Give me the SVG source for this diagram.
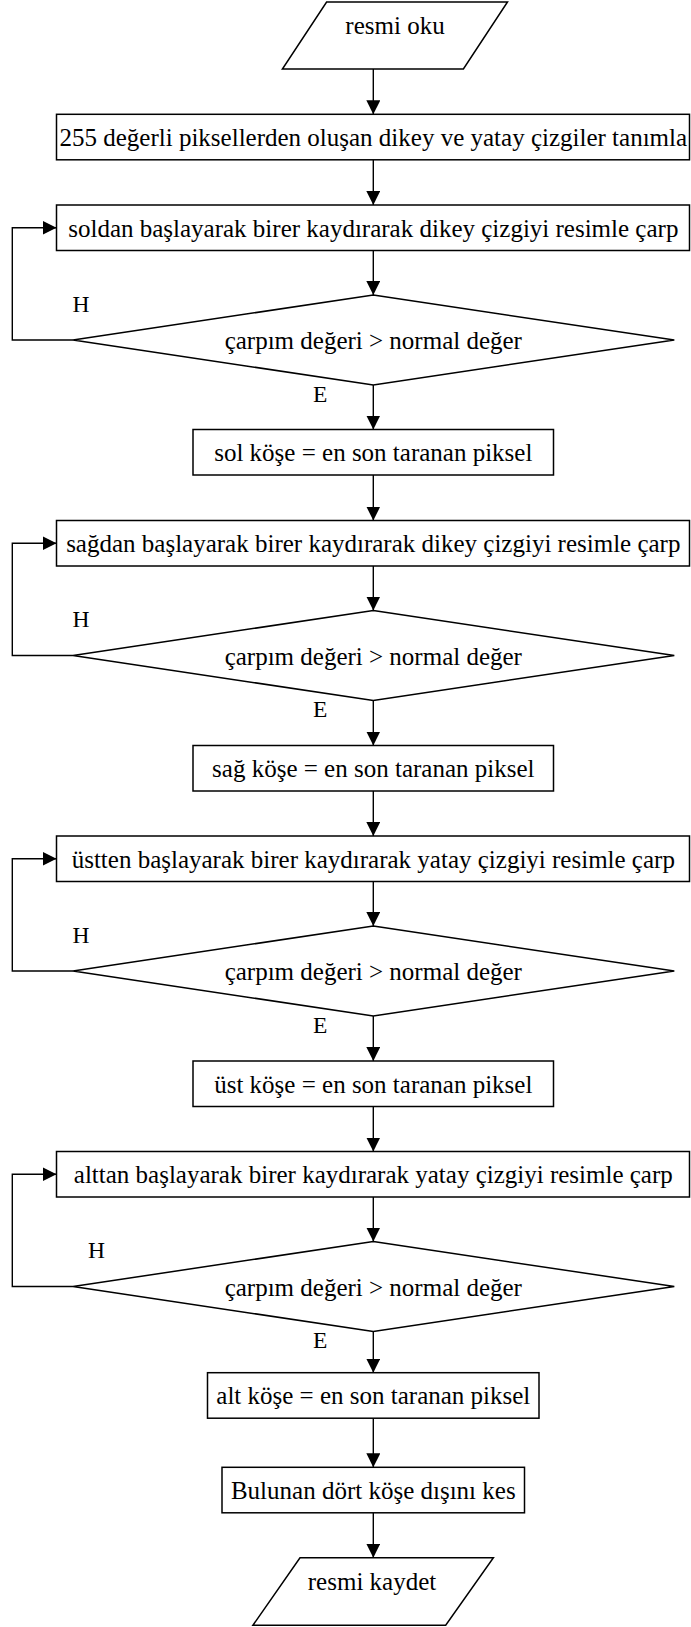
<svg xmlns="http://www.w3.org/2000/svg" width="691" height="1627" viewBox="0 0 691 1627">
<style>
.s{fill:#fff;stroke:#000;stroke-width:1.5}
.t{font-family:"Liberation Serif","Times New Roman",serif;font-size:25px;fill:#000;text-anchor:middle}
.l{font-family:"Liberation Serif","Times New Roman",serif;font-size:23.5px;fill:#000}
.c{fill:none;stroke:#000;stroke-width:1.4}
</style>
<defs>
<marker id="a" markerWidth="14" markerHeight="14" refX="14" refY="7" orient="auto" markerUnits="userSpaceOnUse">
<path d="M0,0 L14,7 L0,14 z" fill="#000"/>
</marker>
</defs>
<rect width="691" height="1627" fill="#fff"/>
<g id="connectors">
<path class="c" d="M373.3,69 V114.3" marker-end="url(#a)"/>
<path class="c" d="M373.3,159.8 V205" marker-end="url(#a)"/>
<path class="c" d="M373.3,250.5 V295" marker-end="url(#a)"/>
<path class="c" d="M373.3,385 V429.5" marker-end="url(#a)"/>
<path class="c" d="M73,340 H12.3 V227.75 H56.5" marker-end="url(#a)"/>
<path class="c" d="M373.3,475 V520.5" marker-end="url(#a)"/>
<path class="c" d="M373.3,566 V610.5" marker-end="url(#a)"/>
<path class="c" d="M373.3,700.5 V745.5" marker-end="url(#a)"/>
<path class="c" d="M73,655.5 H12.3 V543.25 H56.5" marker-end="url(#a)"/>
<path class="c" d="M373.3,791 V836" marker-end="url(#a)"/>
<path class="c" d="M373.3,881.5 V926" marker-end="url(#a)"/>
<path class="c" d="M373.3,1016 V1061" marker-end="url(#a)"/>
<path class="c" d="M73,971 H12.3 V858.75 H56.5" marker-end="url(#a)"/>
<path class="c" d="M373.3,1106.5 V1151.5" marker-end="url(#a)"/>
<path class="c" d="M373.3,1197 V1241.5" marker-end="url(#a)"/>
<path class="c" d="M373.3,1331.5 V1372.7" marker-end="url(#a)"/>
<path class="c" d="M73,1286.5 H12.3 V1174.25 H56.5" marker-end="url(#a)"/>
<path class="c" d="M373.3,1418.2 V1467.3" marker-end="url(#a)"/>
<path class="c" d="M373.3,1512.8 V1557.7" marker-end="url(#a)"/>
<text class="l" x="72.5" y="311.5">H</text>
<text class="l" x="313" y="401.5">E</text>
<text class="l" x="72.5" y="627">H</text>
<text class="l" x="313" y="717">E</text>
<text class="l" x="72.5" y="942.5">H</text>
<text class="l" x="313" y="1032.5">E</text>
<text class="l" x="88" y="1258">H</text>
<text class="l" x="313" y="1348">E</text>
</g>
<g id="n1"><polygon class="s" points="326.6,2 507.5,2 463.4,69 282.4,69"/><text class="t" x="395" y="34">resmi oku</text></g>
<g id="n2"><rect class="s" x="56.5" y="114.3" width="633" height="45.5"/><text class="t" x="373.3" y="146">255 değerli piksellerden oluşan dikey ve yatay çizgiler tanımla</text></g>
<g id="n3"><rect class="s" x="56.5" y="205" width="633" height="45.5"/><text class="t" x="373.3" y="236.5">soldan başlayarak birer kaydırarak dikey çizgiyi resimle çarp</text></g>
<g id="n4"><polygon class="s" points="373.3,295 674.3,340 373.3,385 73,340"/><text class="t" x="373.3" y="349">çarpım değeri &gt; normal değer</text></g>
<g id="n5"><rect class="s" x="193" y="429.5" width="360.5" height="45.5"/><text class="t" x="373.3" y="461">sol köşe = en son taranan piksel</text></g>
<g id="n6"><rect class="s" x="56.5" y="520.5" width="633" height="45.5"/><text class="t" x="373.3" y="552">sağdan başlayarak birer kaydırarak dikey çizgiyi resimle çarp</text></g>
<g id="n7"><polygon class="s" points="373.3,610.5 674.3,655.5 373.3,700.5 73,655.5"/><text class="t" x="373.3" y="664.5">çarpım değeri &gt; normal değer</text></g>
<g id="n8"><rect class="s" x="193" y="745.5" width="360.5" height="45.5"/><text class="t" x="373.3" y="777">sağ köşe = en son taranan piksel</text></g>
<g id="n9"><rect class="s" x="56.5" y="836" width="633" height="45.5"/><text class="t" x="373.3" y="867.5">üstten başlayarak birer kaydırarak yatay çizgiyi resimle çarp</text></g>
<g id="n10"><polygon class="s" points="373.3,926 674.3,971 373.3,1016 73,971"/><text class="t" x="373.3" y="980">çarpım değeri &gt; normal değer</text></g>
<g id="n11"><rect class="s" x="193" y="1061" width="360.5" height="45.5"/><text class="t" x="373.3" y="1092.5">üst köşe = en son taranan piksel</text></g>
<g id="n12"><rect class="s" x="56.5" y="1151.5" width="633" height="45.5"/><text class="t" x="373.3" y="1183">alttan başlayarak birer kaydırarak yatay çizgiyi resimle çarp</text></g>
<g id="n13"><polygon class="s" points="373.3,1241.5 674.3,1286.5 373.3,1331.5 73,1286.5"/><text class="t" x="373.3" y="1295.5">çarpım değeri &gt; normal değer</text></g>
<g id="n14"><rect class="s" x="207.5" y="1372.7" width="331.5" height="45.5"/><text class="t" x="373.3" y="1404.3">alt köşe = en son taranan piksel</text></g>
<g id="n15"><rect class="s" x="222" y="1467.3" width="302.5" height="45.5"/><text class="t" x="373.3" y="1499">Bulunan dört köşe dışını kes</text></g>
<g id="n16"><polygon class="s" points="300,1557.7 493.4,1557.7 445.7,1625.3 252.9,1625.3"/><text class="t" x="372" y="1590">resmi kaydet</text></g>
</svg>
